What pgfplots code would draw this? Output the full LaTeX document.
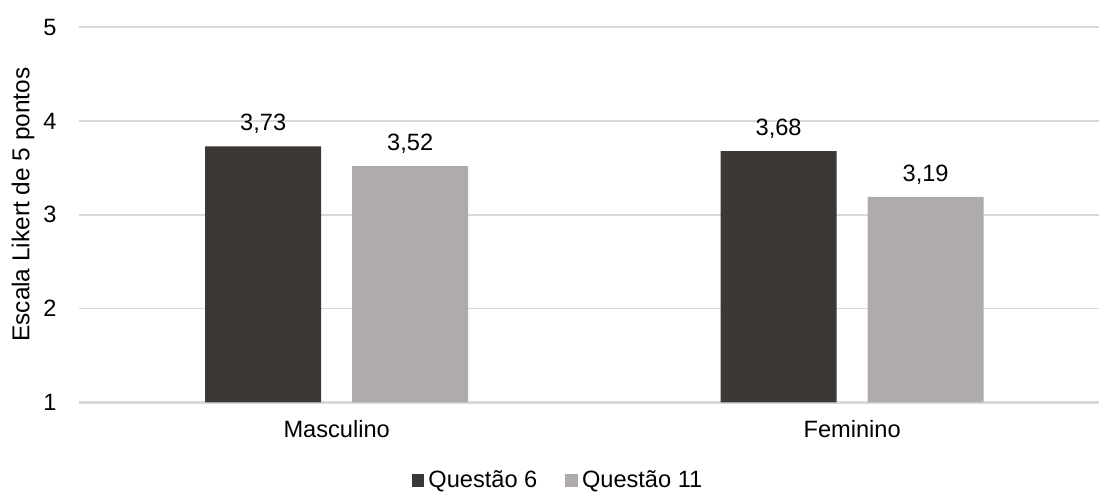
\documentclass[border=0pt]{standalone}
\usepackage{fontspec}
\setmainfont{Liberation Sans}
\usepackage{pgfplots}
\pgfplotsset{compat=1.18}
\definecolor{darkbar}{RGB}{59,56,54}
\definecolor{lightbar}{RGB}{175,171,170}
\definecolor{gridc}{RGB}{217,217,217}
\begin{document}
\begin{tikzpicture}[font=\fontsize{11.8}{14}\selectfont]
\useasboundingbox (0,0) rectangle (549.5pt,246.5pt);
\begin{axis}[
  at={(39.5pt,45.35pt)}, anchor=south west,
  scale only axis, width=510pt, height=187.5pt,
  ybar, bar width=58pt,
  xmin=-0.5, xmax=1.479, ymin=1, ymax=5,
  xtick={0,1}, xticklabels={Masculino,Feminino},
  ytick={1,2,3,4,5},
  major tick length=0pt,
  axis x line*=bottom, axis y line*=left,
  x axis line style={-, draw=gridc, line width=1.3pt},
  y axis line style={draw=none},
  ymajorgrids, major grid style={draw=gridc, line width=0.9pt},
  /pgf/number format/assume math mode=true,
  yticklabel style={anchor=east, inner sep=0pt, xshift=-11pt},
  xticklabel style={anchor=base, inner sep=0pt, yshift=-17.5pt},
  ylabel={Escala Likert de 5 pontos},
  ylabel style={at={(axis description cs:-0.0549,0.527)}, anchor=center, rotate=0, font=\fontsize{12.2}{14}\selectfont},
  nodes near coords,
  every node near coord/.append style={/pgf/number format/use comma, /pgf/number format/fixed, /pgf/number format/fixed zerofill, /pgf/number format/precision=2, anchor=base, inner sep=0pt, yshift=7.9pt, text=black},
  legend columns=2,
  legend style={draw=none, at={(axis description cs:0.4706,-0.208)}, anchor=center,
    /tikz/every even column/.append style={column sep=12pt}},
  legend image code/.code={\fill[#1] (0pt,-3.2pt) rectangle (6.35pt,3.15pt);},
]
\addplot[fill=darkbar, draw=none, bar shift=-36.75pt] coordinates {(0,3.73) (1,3.68)};
\addplot[fill=lightbar, draw=none, bar shift=36.75pt] coordinates {(0,3.52) (1,3.19)};
\legend{Questão 6, Questão 11}
\end{axis}
\end{tikzpicture}
\end{document}
